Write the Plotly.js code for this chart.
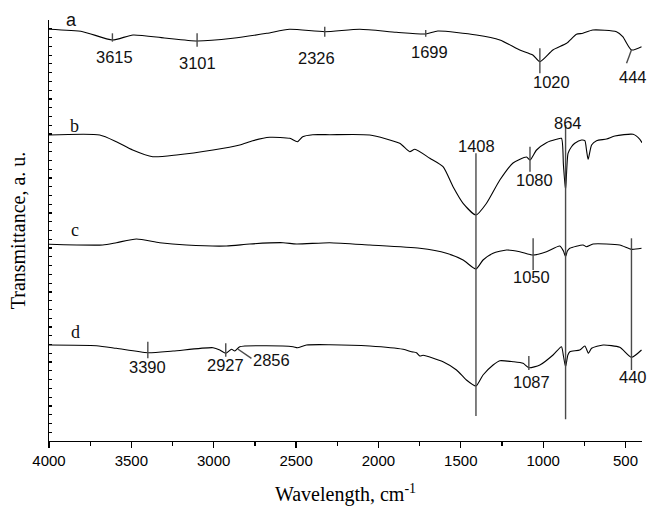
<!DOCTYPE html>
<html>
<head>
<meta charset="utf-8">
<script src="https://cdn.plot.ly/plotly-3.0.1.min.js"></script>
<style>html,body{margin:0;padding:0;background:#fff;}</style>
</head>
<body>
<div id="chart" style="width:648px;height:506px;"></div>
<script>
// ---- Spectrum a ----
const waveA = [4000,3795,3615,3490,3300,3101,2885,2678,2540,2326,2113,1891,1713,1640,1405,1263,1142,1063,1020,941,858,798,759,699,555,517,464,403];
const transA = [411.7,409.3,401,406,403,400,402.7,407.7,411.7,409.3,411.7,408.7,407,410,406,401,391,386,379.3,391,397.7,406.7,407.7,411,409.3,404.3,391,394.3];

// ---- Spectrum b ----
const waveB = [4000,3692,3591,3492,3370,3226,3004,2842,2763,2660,2538,2492,2460,2399,2296,2053,1871,1810,1779,1688,1608,1547,1486,1408,1344,1263,1183,1101,1080,1040,980,919,889,877,864,849,828,808,767,747,737,727,706,676,615,565,454,413,400];
const transB = [306,306,299.3,291,284.3,286,291,296,300.3,303.7,302.7,299.3,304.3,306.3,306.3,306,297.7,289.3,291.7,282.7,274.3,254.3,237.7,226,237.7,261,278,284,281,291,298.3,301.7,302.7,276,251,287.7,294.3,297.7,301,300.3,291,281.7,296,300.3,302,305,306.7,301.7,298.3];

// ---- Spectrum c ----
const waveC = [4000,3674,3591,3469,3328,3166,2923,2781,2579,2498,2296,2053,1749,1587,1486,1408,1365,1304,1223,1142,1061,980,899,877,864,853,838,758,737,697,535,464,403];
const transC = [196.7,196,198.3,202,198.3,196,195,197,198.3,197,198.3,196,192.7,187.7,181,172,181,187.7,191,189.3,186,189.3,195,190,184.3,190,192.7,196,194.3,197,196,191.7,192.7];

// ---- Spectrum d ----
const waveD = [4000,3712,3591,3400,3247,3004,2963,2927,2892,2872,2842,2680,2518,2492,2437,2296,2053,1850,1799,1769,1749,1729,1608,1526,1466,1408,1365,1304,1263,1183,1122,1087,1020,940,889,877,864,850,838,778,747,725,706,636,535,464,403];
const transD = [96,95.3,92.7,88.3,90,93.3,91,87.7,91.7,90,94.3,95.3,94.3,93.3,96,96.3,95,91.7,89.3,88.3,85,85.7,79.3,71,61,55,66,76,80.3,79.3,77.7,73.3,76,86,94.3,85,74.3,86,89.3,91,95,87.7,92.7,96,93.7,83.7,91];

// ---- Peak marker segments (wavenumber start/end, level start/end) ----
const markW1 = [3615,3101,2326,1713,1020,464, 1408,864,1080, 1061,464, 3400,2927,2854,1087];
const markW2 = [3615,3101,2326,1713,1020,494, 1408,864,1080, 1061,464, 3400,2927,2771,1087];
const markV1 = [407.7,407.7,414.3,411,392.7,391, 287.7,316,294.3, 202.7,202.7, 99.3,97.7,92,85];
const markV2 = [399.3,394.3,404.3,404.3,367.7,377.7, 25,21.7,269.3, 171,71, 82.7,84.3,82.7,71];

// ---- Peak labels ----
const peakText = ['3615','3101','2326','1699','1020','444','1408','864','1080','1050','3390','2927','2856','1087','440'];
const peakW = [3601,3097,2378,1688,949,456,1405,850,1051,1069,3402,2927,2652,1069,452];
const peakV = [384.3,378,382.7,389.3,359.3,364.3,295,318.3,261,163.7,74.3,76,81,59.3,63.7];

// ---- Curve letters ----
const curveText = ['a','b','c','d'];
const curveW = [3864,3844,3844,3838];
const curveV = [421,315,211,109.3];
const curveFont = ['Liberation Sans, Arial, sans-serif','Liberation Serif, Times New Roman, serif','Liberation Serif, Times New Roman, serif','Liberation Serif, Times New Roman, serif'];

const curveLine = {color:'#000', width:1.1, shape:'spline', smoothing:0.6};
const traces = [
  {x:waveA, y:transA, type:'scatter', mode:'lines', line:curveLine, hoverinfo:'skip'},
  {x:waveB, y:transB, type:'scatter', mode:'lines', line:curveLine, hoverinfo:'skip'},
  {x:waveC, y:transC, type:'scatter', mode:'lines', line:curveLine, hoverinfo:'skip'},
  {x:waveD, y:transD, type:'scatter', mode:'lines', line:curveLine, hoverinfo:'skip'}
];
const segX = [], segY = [];
for (let i = 0; i < markW1.length; i++) {
  segX.push(markW1[i], markW2[i], null);
  segY.push(markV1[i], markV2[i], null);
}
traces.push({x:segX, y:segY, type:'scatter', mode:'lines', line:{color:'#4a4a4a', width:1.4}, hoverinfo:'skip', cliponaxis:false});

const annotations = [];
for (let i = 0; i < peakText.length; i++) {
  annotations.push({x:peakW[i], y:peakV[i], xref:'x', yref:'y', text:peakText[i], showarrow:false,
    font:{family:'Liberation Sans, Arial, sans-serif', size:16.5, color:'#111'}, xanchor:'center', yanchor:'middle'});
}
for (let i = 0; i < curveText.length; i++) {
  annotations.push({x:curveW[i], y:curveV[i], xref:'x', yref:'y', text:curveText[i], showarrow:false,
    font:{family:curveFont[i], size:18, color:'#111'}, xanchor:'center', yanchor:'middle'});
}

const layout = {
  width:648, height:506,
  margin:{l:49, r:6, t:20, b:65},
  paper_bgcolor:'#fff', plot_bgcolor:'#fff',
  showlegend:false,
  xaxis:{
    range:[4000,400], autorange:false,
    tick0:0, dtick:500,
    ticks:'outside', ticklen:6, tickwidth:1.3, tickcolor:'#000',
    minor:{dtick:250, ticks:'outside', ticklen:3.5, tickwidth:1.3, tickcolor:'#000', showgrid:false},
    showline:true, linecolor:'#000', linewidth:1.4,
    showgrid:false, zeroline:false,
    tickfont:{family:'Liberation Sans, Arial, sans-serif', size:15, color:'#000'},
    title:{text:'Wavelength, cm<sup>-1</sup>', font:{family:'Liberation Serif, Times New Roman, serif', size:20, color:'#000'}, standoff:20}
  },
  yaxis:{
    range:[0,421], autorange:false,
    tick0:0, dtick:8.77,
    ticks:'inside', ticklen:3, tickwidth:1.2, tickcolor:'#000',
    showticklabels:false,
    showline:true, linecolor:'#000', linewidth:1.4,
    showgrid:false, zeroline:false,
    title:{text:'Transmittance, a. u.', font:{family:'Liberation Serif, Times New Roman, serif', size:20, color:'#000'}, standoff:16}
  },
  annotations:annotations
};

Plotly.newPlot('chart', traces, layout, {displayModeBar:false, staticPlot:true});
</script>
</body>
</html>
